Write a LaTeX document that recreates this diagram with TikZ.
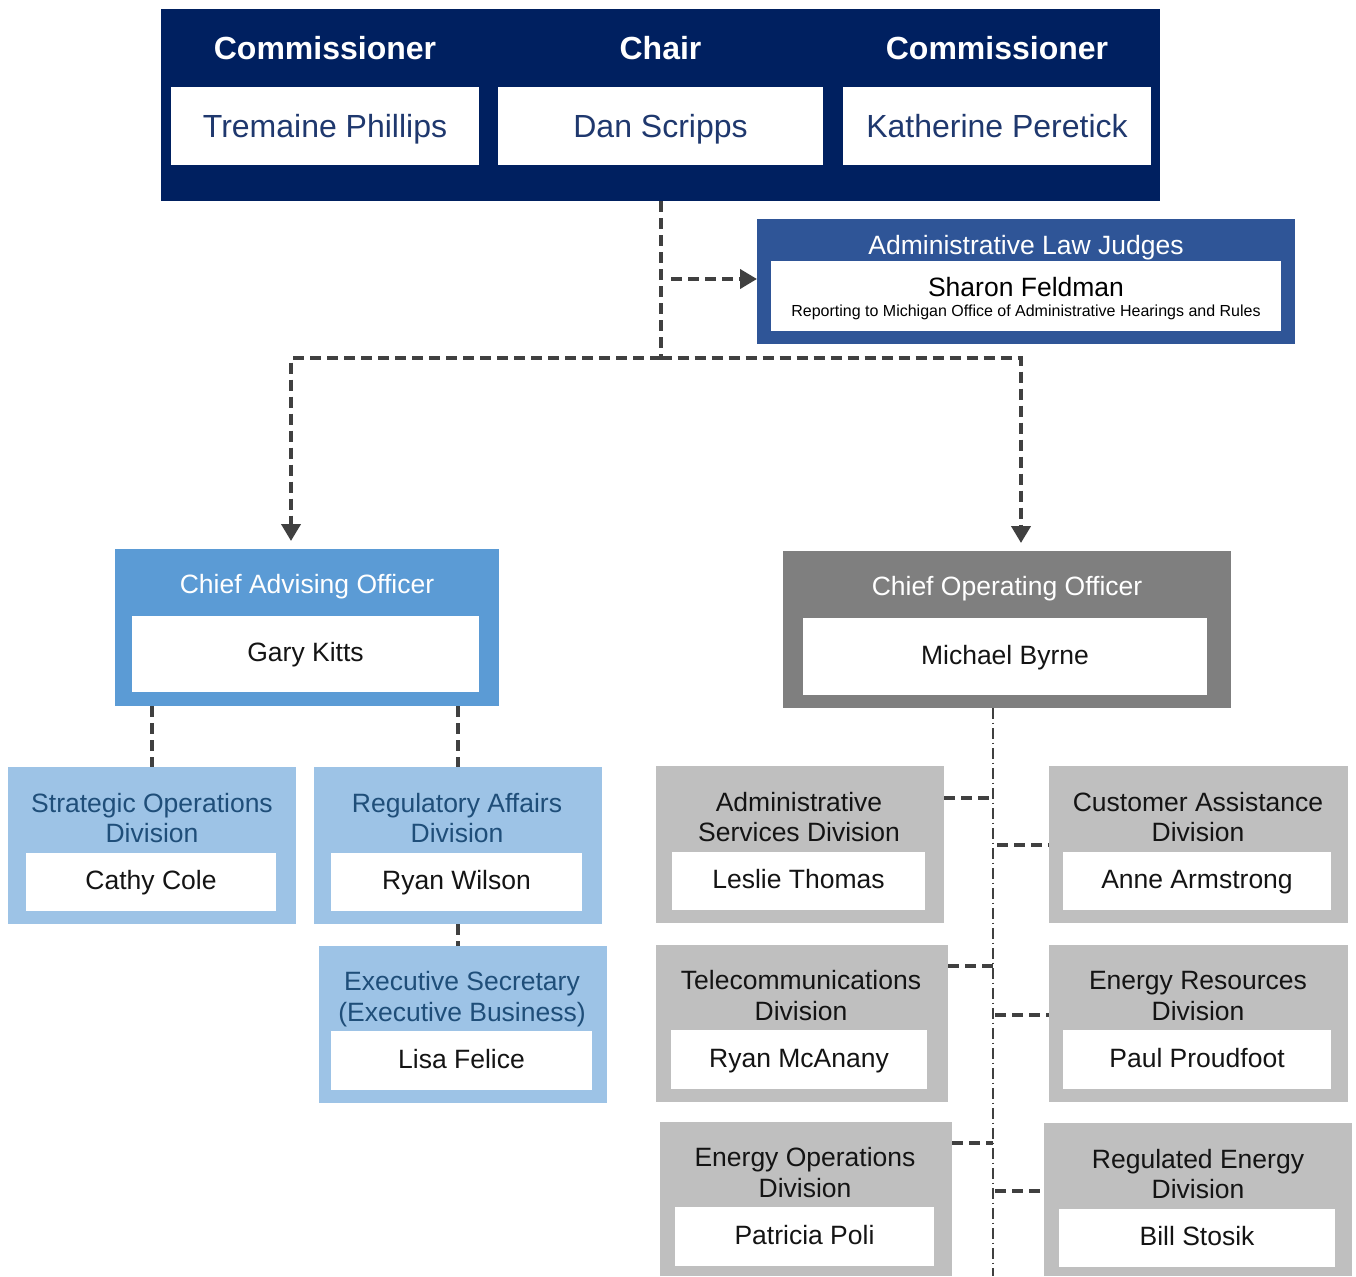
\documentclass[tikz,border=0pt]{standalone}
\usepackage{fontspec}
\setmainfont{Liberation Sans}
\usetikzlibrary{arrows.meta,calc}
\definecolor{navy}{RGB}{0,32,96}
\definecolor{topname}{RGB}{31,56,110}
\definecolor{aljblue}{RGB}{47,85,151}
\definecolor{caoblue}{RGB}{91,155,213}
\definecolor{lightblue}{RGB}{157,195,230}
\definecolor{ltext}{RGB}{31,78,121}
\definecolor{coogray}{RGB}{127,127,127}
\definecolor{divgray}{RGB}{191,191,191}
\definecolor{conncol}{RGB}{64,64,64}
\definecolor{dtext}{RGB}{20,20,20}
\newcommand\bx[6]{\node[box,fill=#2,minimum width=#3pt,minimum height=#4pt] (#1) at (#5,#6) {};}
\newcommand\wb[6]{\node[box,fill=white,minimum width=#2pt,minimum height=#3pt,#6] (#1) at (#4,#5) {};}
\newcommand\ttl[5]{\node[tl,#2] (#1) at (#3,#4) {#5};}
\begin{document}
\begin{tikzpicture}[x=1pt,y=-1pt,
  box/.style={rectangle,inner sep=0pt,outer sep=0pt,draw=none},
  tl/.style={inner sep=0pt,outer sep=0pt,anchor=base,font=\fontsize{26.5}{30}\selectfont},
  nm/.style={font=\fontsize{26.5}{30}\selectfont,text height=19pt,text depth=0pt,text=dtext,yshift=2pt},
  topnm/.style={font=\fontsize{32}{36}\selectfont,text height=23pt,text depth=0pt,text=topname},
  hdr/.style={text=white,font=\fontsize{32}{36}\selectfont\bfseries},
  conn/.style={draw=conncol,line width=4pt,dash pattern=on 11pt off 6pt},
  spine/.style={draw=conncol,line width=2pt,dash pattern=on 11pt off 3.5pt on 1.5pt off 4pt},
  arr/.style={-{Triangle[length=17pt,width=19pt,fill=conncol]}}]
\useasboundingbox (0,0) rectangle (1356,1276);

% ---- top board
\bx{top}{navy}{999}{192}{660.5}{105}
\wb{tp}{308}{78}{325}{126}{topnm}
\node[topnm] (tpn) at (tp.center) {Tremaine Phillips};
\wb{ds}{325}{78}{660.5}{126}{topnm}
\node[topnm] (dsn) at (ds.center) {Dan Scripps};
\wb{kp}{308}{78}{997}{126}{topnm}
\node[topnm] (kpn) at (kp.center) {Katherine Peretick};
\ttl{h1}{hdr}{325}{59.5}{Commissioner}
\ttl{h2}{hdr}{660.5}{59.5}{Chair}
\ttl{h3}{hdr}{997}{59.5}{Commissioner}

% ---- ALJ
\bx{alj}{aljblue}{538}{125}{1026}{281.5}
\wb{aljin}{510}{70}{1026}{296}{}
\ttl{aljt}{text=white}{1026}{254.5}{Administrative Law Judges}
\ttl{aljn}{text=black}{1026}{296.5}{Sharon Feldman}
\ttl{aljr}{text=black,font=\fontsize{16}{18}\selectfont}{1026}{316.8}{Reporting to Michigan Office of Administrative Hearings and Rules}

% ---- Chief Advising Officer
\bx{cao}{caoblue}{384}{157}{307}{627.5}
\wb{caoin}{347}{76}{305.5}{654}{}
\node[nm] (caon) at (caoin.center) {Gary Kitts};
\ttl{caot}{text=white}{307}{593.5}{Chief Advising Officer}

% ---- Chief Operating Officer
\bx{coo}{coogray}{448}{157}{1007}{629.5}
\wb{cooin}{404}{77}{1005}{656.5}{}
\node[nm] (coon) at (cooin.center) {Michael Byrne};
\ttl{coot}{text=white}{1007}{595.5}{Chief Operating Officer}

% ---- advising side
\bx{sod}{lightblue}{288}{157}{152}{845.5}
\wb{sodin}{250}{58}{151}{882}{}
\node[nm] (sodn) at (sodin.center) {Cathy Cole};
\ttl{sodt1}{text=ltext}{152}{812.5}{Strategic Operations}
\ttl{sodt2}{text=ltext}{152}{842.5}{Division}

\bx{rad}{lightblue}{288}{157}{458}{845.5}
\wb{radin}{251}{58}{456.5}{882}{}
\node[nm] (radn) at (radin.center) {Ryan Wilson};
\ttl{radt1}{text=ltext}{457}{812.5}{Regulatory Affairs}
\ttl{radt2}{text=ltext}{457}{842.5}{Division}

\bx{exs}{lightblue}{288}{157}{463}{1024.5}
\wb{exsin}{261}{59}{461.5}{1060.5}{}
\node[nm] (exsn) at (exsin.center) {Lisa Felice};
\ttl{exst1}{text=ltext}{462}{990.5}{Executive Secretary}
\ttl{exst2}{text=ltext}{462}{1021.5}{(Executive Business)}

% ---- operating side
\bx{asd}{divgray}{288}{157}{800}{844.5}
\wb{asdin}{253}{58}{798.5}{881}{}
\node[nm] (asdn) at (asdin.center) {Leslie Thomas};
\ttl{asdt1}{text=dtext}{799}{811.5}{Administrative}
\ttl{asdt2}{text=dtext}{799}{841.5}{Services Division}

\bx{tcd}{divgray}{292}{157}{802}{1023.5}
\wb{tcdin}{256}{59}{799}{1059.5}{}
\node[nm] (tcdn) at (tcdin.center) {Ryan McAnany};
\ttl{tcdt1}{text=dtext}{801}{989.5}{Telecommunications}
\ttl{tcdt2}{text=dtext}{801}{1020.5}{Division}

\bx{eod}{divgray}{292}{154}{806}{1199}
\wb{eodin}{259}{59}{804.5}{1236.5}{}
\node[nm] (eodn) at (eodin.center) {Patricia Poli};
\ttl{eodt1}{text=dtext}{805}{1166.5}{Energy Operations}
\ttl{eodt2}{text=dtext}{805}{1197.5}{Division}

\bx{cad}{divgray}{299}{157}{1198.5}{844.5}
\wb{cadin}{268}{58}{1197}{881}{}
\node[nm] (cadn) at (cadin.center) {Anne Armstrong};
\ttl{cadt1}{text=dtext}{1198}{811.5}{Customer Assistance}
\ttl{cadt2}{text=dtext}{1198}{841.5}{Division}

\bx{erd}{divgray}{299}{157}{1198.5}{1023.5}
\wb{erdin}{268}{59}{1197}{1059.5}{}
\node[nm] (erdn) at (erdin.center) {Paul Proudfoot};
\ttl{erdt1}{text=dtext}{1198}{989.5}{Energy Resources}
\ttl{erdt2}{text=dtext}{1198}{1020.5}{Division}

\bx{red}{divgray}{308}{153}{1198}{1199.5}
\wb{redin}{276}{58}{1197}{1238}{}
\node[nm] (redn) at (redin.center) {Bill Stosik};
\ttl{redt1}{text=dtext}{1198}{1168.5}{Regulated Energy}
\ttl{redt2}{text=dtext}{1198}{1198.5}{Division}

% ---- connectors
\coordinate (hub) at (660.5,358);
\coordinate (lt) at (291,358);
\coordinate (rt) at (1021,358);
\coordinate (aljsrc) at (671,279);
\draw[conn] (top.south) -- (hub);
\draw[conn,arr] (aljsrc) -- (aljsrc -| alj.west);
\draw[conn,arr,shorten >=8pt] (hub) -- (lt) -- (lt |- cao.north);
\draw[conn,arr,shorten >=8pt] (hub) -- (rt) -- (rt |- coo.north);

\draw[conn] (sod.north |- cao.south) -- (sod.north);
\draw[conn] (rad.north |- cao.south) -- (rad.north);
\draw[conn] (rad.south) -- (rad.south |- exs.north);

\coordinate (spend) at (993,1276);
\draw[spine] (spend |- coo.south) -- (spend);
\coordinate (b1) at (993,798);
\coordinate (b2) at (997,845);
\coordinate (b3) at (993,966);
\coordinate (b4) at (995,1015);
\coordinate (b5) at (993,1143);
\coordinate (b6) at (995,1191);
\draw[conn] (asd.east |- b1) -- (b1);
\draw[conn] (b2) -- (b2 -| cad.west);
\draw[conn] (tcd.east |- b3) -- (b3);
\draw[conn] (b4) -- (b4 -| erd.west);
\draw[conn] (eod.east |- b5) -- (b5);
\draw[conn] (b6) -- (b6 -| red.west);
\end{tikzpicture}
\end{document}
